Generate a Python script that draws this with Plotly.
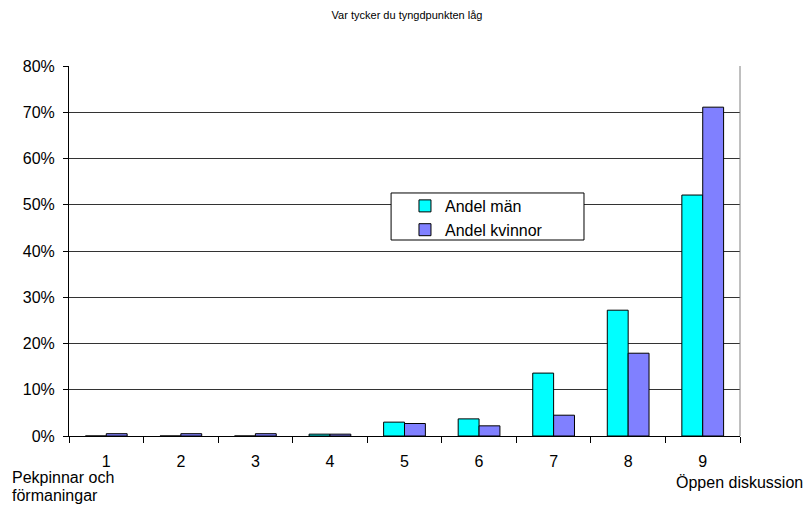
import plotly.graph_objects as go

categories = ["1", "2", "3", "4", "5", "6", "7", "8", "9"]
men = [0.0, 0.0, 0.0, 0.004, 0.030, 0.037, 0.136, 0.272, 0.521]
women = [0.005, 0.005, 0.005, 0.004, 0.027, 0.022, 0.045, 0.179, 0.711]
y_ticks = [0, 0.1, 0.2, 0.3, 0.4, 0.5, 0.6, 0.7, 0.8]

FONT = "Liberation Sans, Arial, sans-serif"

fig = go.Figure()
fig.add_trace(go.Bar(x=categories, y=men, name="Andel män",
                     marker=dict(color="#00FFFF", line=dict(color="black", width=1))))
fig.add_trace(go.Bar(x=categories, y=women, name="Andel kvinnor",
                     marker=dict(color="#8080FF", line=dict(color="black", width=1))))

fig.update_layout(
    width=806, height=506,
    margin=dict(l=69, r=66, t=66, b=70),
    paper_bgcolor="white", plot_bgcolor="white",
    font=dict(family=FONT, size=16, color="black"),
    title=dict(text="Var tycker du tyngdpunkten låg", x=0.505, xanchor="center",
               y=0.970, yanchor="middle", font=dict(size=11)),
    barmode="group", bargap=0.44, bargroupgap=0,
    showlegend=True,
    legend=dict(x=0.5007, y=0.6676, xanchor="left", yanchor="top",
                bgcolor="rgba(0,0,0,0)", borderwidth=0,
                font=dict(size=16), itemwidth=30, tracegroupgap=0),
    xaxis=dict(type="category", showgrid=False, showline=True, linecolor="black",
               linewidth=1, ticks="outside", tickson="boundaries", ticklen=6,
               tickcolor="black", tickfont=dict(size=16), ticklabelstandoff=11),
    yaxis=dict(range=[0, 0.8], tickvals=y_ticks, tickformat=".0%", showgrid=True,
               gridcolor="#333333", gridwidth=1, showline=True, linecolor="black",
               ticks="outside", ticklen=5, tickcolor="black", zeroline=False,
               tickfont=dict(size=16), ticklabelstandoff=5),
    shapes=[
        dict(type="line", xref="paper", yref="paper", x0=1, x1=1, y0=0, y1=1,
             line=dict(color="#808080", width=1)),
        dict(type="rect", xref="paper", yref="paper", x0=0.48, x1=0.7675,
             y0=0.5297, y1=0.6568, fillcolor="white", layer="above",
             line=dict(color="black", width=1)),
    ],
    annotations=[
        dict(text="Pekpinnar och", xref="paper", yref="paper",
             x=-0.0879, y=-0.1135, xanchor="left", yanchor="middle",
             showarrow=False, font=dict(size=16)),
        dict(text="förmaningar", xref="paper", yref="paper",
             x=-0.0879, y=-0.162, xanchor="left", yanchor="middle",
             showarrow=False, font=dict(size=16)),
        dict(text="Öppen diskussion", xref="paper", yref="paper",
             x=1.0969, y=-0.127, xanchor="right", yanchor="middle",
             showarrow=False, font=dict(size=16)),
    ],
)

fig.write_html("out.html", config={"displayModeBar": False},
               post_script="document.body.style.margin='0';")
